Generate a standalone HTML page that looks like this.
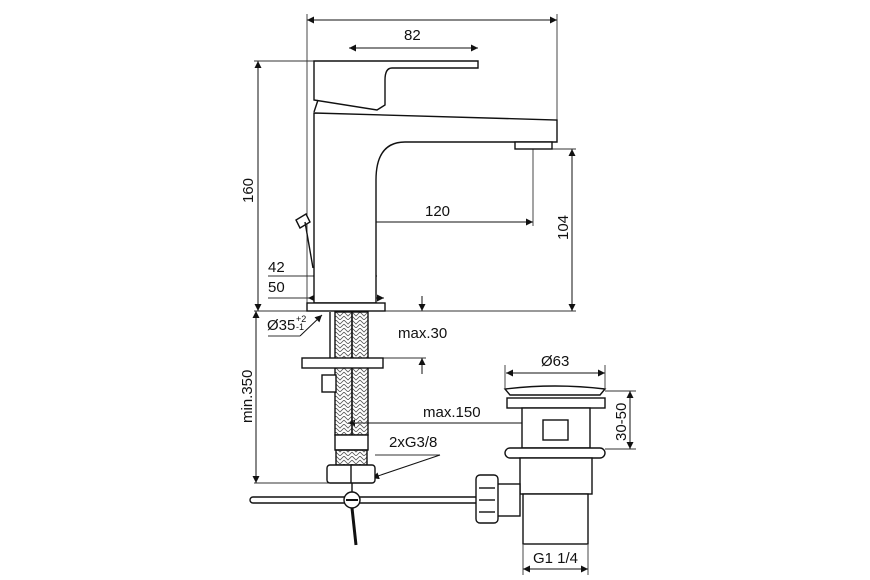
<!DOCTYPE html>
<html><head><meta charset="utf-8"><style>
html,body{margin:0;padding:0;background:#fff}
svg{display:block}
text{font-family:"Liberation Sans",sans-serif;font-size:15px;fill:#111}
</style></head><body>
<svg width="870" height="580" viewBox="0 0 870 580" xmlns="http://www.w3.org/2000/svg">
<defs>
<marker id="a" viewBox="0 0 10 10" refX="10" refY="5" markerWidth="13" markerHeight="7" orient="auto-start-reverse" markerUnits="userSpaceOnUse"><path d="M0,0 L10,5 L0,10z" fill="#111"/></marker>
<pattern id="h" width="8" height="8" patternUnits="userSpaceOnUse"><path d="M0,0 L4,4 L8,0 M0,4 L4,8 L8,4" stroke="#555" stroke-width="0.8" fill="none"/></pattern>
</defs>
<g stroke="#333" stroke-width="0.9" fill="none">
<line x1="307" y1="14" x2="307" y2="303"/>
<line x1="557" y1="14" x2="557" y2="120"/>
<line x1="254" y1="61" x2="318" y2="61"/>
<line x1="254" y1="311" x2="576" y2="311"/>
<line x1="528" y1="149" x2="576" y2="149"/>
<line x1="533" y1="149" x2="533" y2="226"/>
<line x1="346" y1="218" x2="346" y2="302"/>
<line x1="268" y1="276" x2="313" y2="276"/>
<line x1="268" y1="298" x2="308" y2="298"/>
<line x1="254" y1="483" x2="330" y2="483"/>
<line x1="383" y1="358" x2="426" y2="358"/>
<line x1="268" y1="336" x2="300" y2="336"/>
<line x1="375" y1="455" x2="440" y2="455"/>
<line x1="505" y1="365" x2="505" y2="388"/>
<line x1="605" y1="365" x2="605" y2="388"/>
<line x1="605" y1="391" x2="636" y2="391"/>
<line x1="605" y1="449" x2="636" y2="449"/>
<line x1="523" y1="545" x2="523" y2="575"/>
<line x1="588" y1="545" x2="588" y2="575"/>
</g>
<g stroke="#111" stroke-width="1" fill="none">
<line x1="307" y1="20" x2="557" y2="20" marker-start="url(#a)" marker-end="url(#a)"/>
<line x1="349" y1="48" x2="478" y2="48" marker-start="url(#a)" marker-end="url(#a)"/>
<line x1="258" y1="61" x2="258" y2="311" marker-start="url(#a)" marker-end="url(#a)"/>
<line x1="572" y1="149" x2="572" y2="311" marker-start="url(#a)" marker-end="url(#a)"/>
<line x1="346" y1="222" x2="533" y2="222" marker-start="url(#a)" marker-end="url(#a)"/>
<line x1="313" y1="276" x2="377" y2="276" marker-start="url(#a)" marker-end="url(#a)"/>
<line x1="308" y1="298" x2="384" y2="298" marker-start="url(#a)" marker-end="url(#a)"/>
<line x1="256" y1="311" x2="256" y2="483" marker-start="url(#a)" marker-end="url(#a)"/>
<line x1="422" y1="296" x2="422" y2="311" marker-end="url(#a)"/>
<line x1="422" y1="374" x2="422" y2="358" marker-end="url(#a)"/>
<line x1="300" y1="336" x2="322" y2="315" marker-end="url(#a)"/>
<line x1="440" y1="455" x2="372" y2="478" marker-end="url(#a)"/>
<line x1="555" y1="423" x2="348" y2="423" marker-end="url(#a)"/>
<line x1="555" y1="400" x2="555" y2="423"/>
<line x1="506" y1="373" x2="605" y2="373" marker-start="url(#a)" marker-end="url(#a)"/>
<line x1="630" y1="391" x2="630" y2="449" marker-start="url(#a)" marker-end="url(#a)"/>
<line x1="523" y1="569" x2="588" y2="569" marker-start="url(#a)" marker-end="url(#a)"/>
</g>
<g stroke="#111" stroke-width="1.4" fill="#fff">
<path d="M314,113 L557,120 L557,142 L405,142 Q376,142 376,180 L376,303 L314,303 Z"/>
<path d="M314,61 L478,61 L478,68 L392,68 Q385,68 385,80 L385,105 L377,110 L314,100 Z"/>
<path d="M318,100 L314,112" />
<rect x="515" y="142" width="37" height="7"/>
<rect x="307" y="303" width="78" height="8"/>
<path d="M300,228 L296,220 L306,214 L310,222 Z"/>
<line x1="305" y1="222" x2="313" y2="268"/>
<rect x="335" y="312" width="17" height="123" fill="url(#h)"/>
<rect x="352" y="312" width="16" height="123" fill="url(#h)"/>
<line x1="330" y1="312" x2="330" y2="360"/>
<rect x="302" y="358" width="81" height="10"/>
<rect x="322" y="375" width="14" height="17"/>
<rect x="335" y="435" width="33" height="15"/>
<rect x="336" y="450" width="31" height="15" fill="url(#h)"/>
<rect x="327" y="465" width="48" height="18" rx="3"/>
<line x1="351" y1="465" x2="351" y2="483"/>
<line x1="352" y1="483" x2="352" y2="492"/>
<rect x="250" y="497" width="230" height="6" rx="3"/>
<line x1="352" y1="508" x2="356" y2="545" stroke-width="3"/>
<circle cx="352" cy="500" r="8"/>
<line x1="346" y1="500" x2="358" y2="500" stroke-width="2"/>
<path d="M505,389 Q555,383 605,389 L600,395 L510,395 Z"/>
<rect x="507" y="398" width="98" height="10"/>
<rect x="522" y="408" width="68" height="40"/>
<rect x="543" y="420" width="25" height="20"/>
<rect x="505" y="448" width="100" height="10" rx="5"/>
<rect x="520" y="458" width="72" height="36"/>
<rect x="523" y="494" width="65" height="50"/>
<rect x="497" y="484" width="23" height="32"/>
<rect x="476" y="475" width="22" height="48" rx="4"/>
<line x1="479" y1="488" x2="495" y2="488"/>
<line x1="479" y1="500" x2="495" y2="500"/>
<line x1="479" y1="512" x2="495" y2="512"/>
</g>
<text x="404" y="40">82</text>
<text x="425" y="216">120</text>
<text x="268" y="272">42</text>
<text x="268" y="292">50</text>
<text x="267" y="330">Ø35</text><text x="296" y="322" style="font-size:9px">+2</text><text x="296" y="330" style="font-size:9px">-1</text>
<text x="398" y="338">max.30</text>
<text x="423" y="417">max.150</text>
<text x="389" y="447">2xG3/8</text>
<text x="541" y="366">Ø63</text>
<text x="533" y="563">G1 1/4</text>
<text transform="translate(253,203) rotate(-90)">160</text>
<text transform="translate(568,240) rotate(-90)">104</text>
<text transform="translate(252,423) rotate(-90)">min.350</text>
<text transform="translate(626,441) rotate(-90)">30-50</text>
</svg>
</body></html>
